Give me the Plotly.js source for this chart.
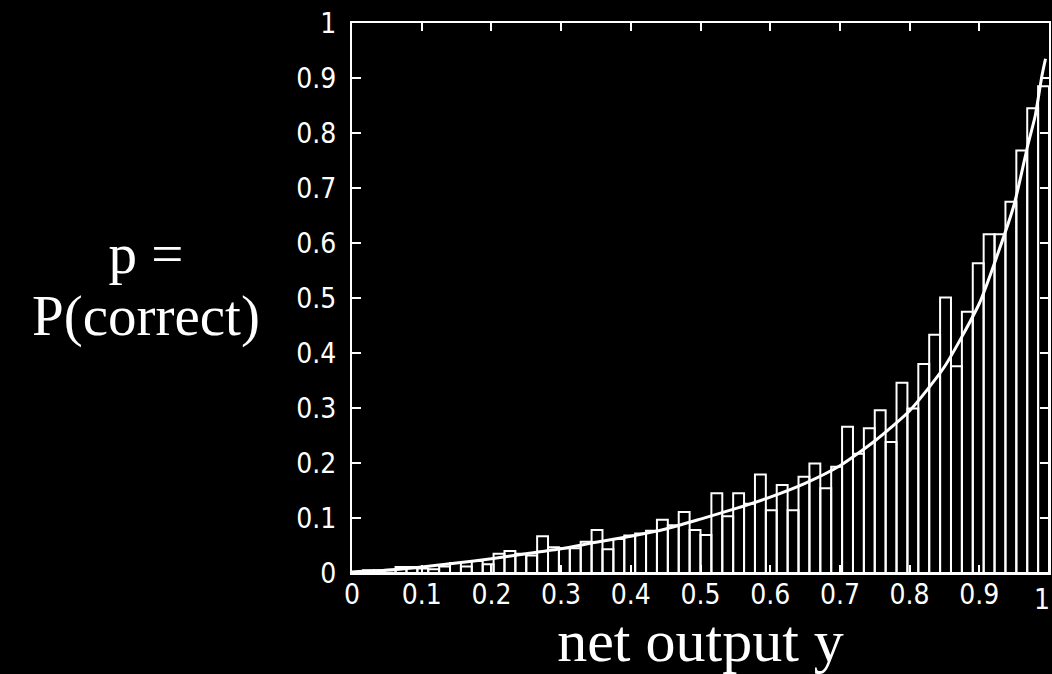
<!DOCTYPE html>
<html>
<head>
<meta charset="utf-8">
<script src="https://cdn.plot.ly/plotly-3.0.1.min.js"></script>
<style>
  html, body { margin: 0; padding: 0; background: #000; }
  #chart { width: 1052px; height: 674px; }
</style>
</head>
<body>
<div id="chart"></div>
<script>
// Histogram of P(correct) per bin of net output y (64 equal bins on [0,1])
const binValues = [
  0.001, 0.005, 0.005, 0.006, 0.011, 0.011, 0.008, 0.007,
  0.012, 0.018, 0.012, 0.022, 0.016, 0.035, 0.040, 0.035,
  0.032, 0.067, 0.047, 0.045, 0.045, 0.057, 0.078, 0.043,
  0.062, 0.068, 0.072, 0.077, 0.097, 0.087, 0.111, 0.078,
  0.069, 0.145, 0.103, 0.145, 0.126, 0.179, 0.114, 0.160,
  0.114, 0.175, 0.199, 0.154, 0.193, 0.266, 0.217, 0.263,
  0.296, 0.238, 0.346, 0.299, 0.380, 0.433, 0.501, 0.376,
  0.475, 0.563, 0.616, 0.616, 0.675, 0.768, 0.845, 0.885
];

// Fitted curve
const curveX = [0, 0.05, 0.1, 0.15, 0.2, 0.25, 0.3, 0.35, 0.4, 0.45, 0.5, 0.55, 0.6,
                0.65, 0.7, 0.75, 0.8, 0.85, 0.9, 0.925, 0.95, 0.97, 0.98, 0.99, 0.995];
const curveY = [0.002, 0.005, 0.011, 0.018, 0.026, 0.035, 0.044, 0.056, 0.067, 0.080, 0.098, 0.117, 0.138,
                0.163, 0.195, 0.240, 0.295, 0.375, 0.490, 0.575, 0.670, 0.780, 0.830, 0.905, 0.935];

const tickVals = [0, 0.1, 0.2, 0.3, 0.4, 0.5, 0.6, 0.7, 0.8, 0.9, 1];
const tickText = ['0', '0.1', '0.2', '0.3', '0.4', '0.5', '0.6', '0.7', '0.8', '0.9', '1'];

const nBins = binValues.length;
const binWidth = 1 / nBins;
const binCenters = binValues.map((_, i) => (i + 0.5) * binWidth);

const tickFont = { family: '"DejaVu Sans Condensed", "Liberation Sans Narrow", "DejaVu Sans Mono", sans-serif', size: 28, color: '#ffffff' };
const serif = '"Liberation Serif", "DejaVu Serif", serif';

// the last x tick label sits at the page edge: draw it right-aligned so it stays inside
const xTickText = tickText.map((t, i) => (i === tickText.length - 1 ? '' : t));

const traces = [
  {
    type: 'bar',
    x: binCenters,
    y: binValues,
    width: binWidth,
    marker: { color: 'rgba(0,0,0,0)', line: { color: '#ffffff', width: 2 } },
    hoverinfo: 'skip'
  },
  {
    type: 'scatter',
    mode: 'lines',
    x: curveX,
    y: curveY,
    line: { color: '#ffffff', width: 3, shape: 'spline', smoothing: 0.6 },
    hoverinfo: 'skip'
  }
];

const axisCommon = {
  range: [0, 1],
  tickmode: 'array',
  tickvals: tickVals,
  ticktext: tickText,
  ticks: 'inside',
  tickwidth: 2,
  tickcolor: '#ffffff',
  showline: true,
  linecolor: '#ffffff',
  linewidth: 2,
  mirror: 'ticks',
  showgrid: false,
  zeroline: false,
  tickfont: tickFont,
  ticklabeloverflow: 'allow',
  fixedrange: true
};

const layout = {
  width: 1052,
  height: 674,
  paper_bgcolor: '#000000',
  plot_bgcolor: '#000000',
  showlegend: false,
  bargap: 0,
  margin: { l: 352, r: 3, t: 23, b: 101, pad: 0 },
  xaxis: Object.assign({}, axisCommon, {
    ticktext: xTickText,
    ticklen: 8,
    ticklabelstandoff: -5,
    title: { text: 'net output y', font: { family: serif, size: 60, color: '#ffffff' }, standoff: 16 }
  }),
  yaxis: Object.assign({}, axisCommon, {
    ticklen: 9,
    ticklabelstandoff: 8
  }),
  annotations: [
    {
      // two stacked lines in one text: line spacing follows the base size
      text: '<span style="font-size:57px">p =</span><br><span style="font-size:57px">P(correct)</span>',
      xref: 'paper', yref: 'paper', x: -0.2956, y: 0.5235,
      xanchor: 'center', yanchor: 'middle', showarrow: false,
      font: { family: serif, size: 48, color: '#ffffff' }
    },
    {
      text: tickText[tickText.length - 1],
      xref: 'paper', yref: 'paper', x: 1.0043, y: 0,
      xanchor: 'right', yanchor: 'top', yshift: -8, showarrow: false,
      font: tickFont
    }
  ]
};

Plotly.newPlot('chart', traces, layout, { displayModeBar: false, staticPlot: true });
</script>
</body>
</html>
